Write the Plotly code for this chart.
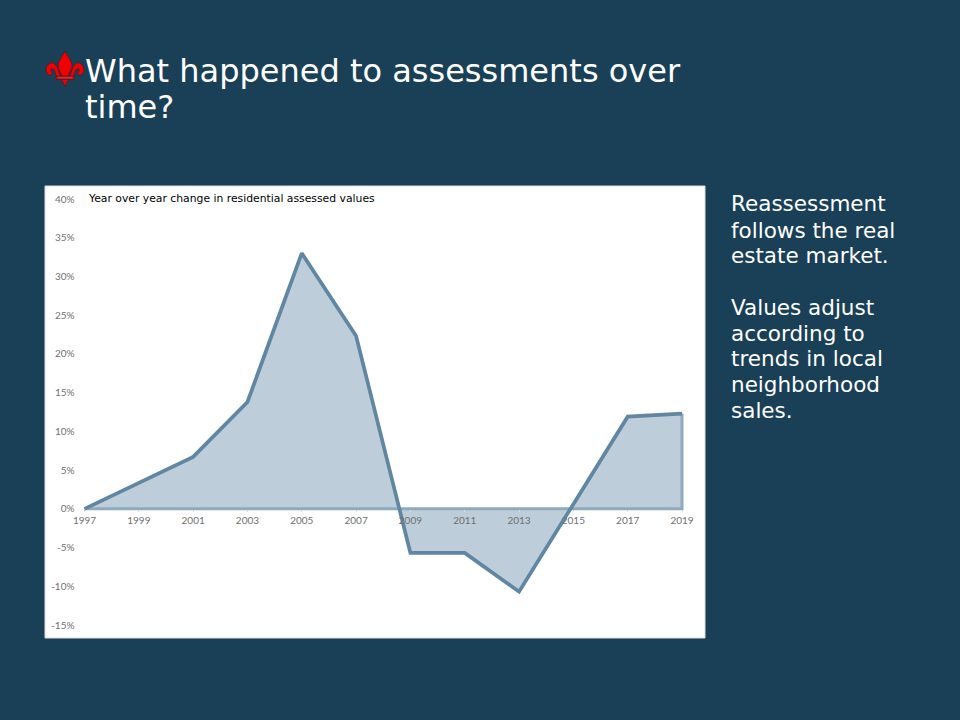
import plotly.graph_objects as go

years = [1997, 1999, 2001, 2003, 2005, 2007, 2009, 2011, 2013, 2015, 2017, 2019]
changes = [0, 3.3, 6.7, 13.8, 33.0, 22.3, -5.7, -5.7, -10.7, 0.6, 11.9, 12.3]
x_ticks = years
y_ticks = [40, 35, 30, 25, 20, 15, 10, 5, 0, -5, -10, -15]
y_labels = [f"{v}%" for v in y_ticks]
title_lines = ["What happened to assessments over", "time?"]
side_lines = ["Reassessment", "follows the real", "estate market.", "", "Values adjust", "according to",
              "trends in local", "neighborhood", "sales."]
chart_label = "Year over year change in residential assessed values"

BG = "#1a4057"
LINE = "#5f87a3"
FILL = "#bdcdd9"
BASE = "#8eaabf"
TICK = "#6f6f6f"

# panel geometry in page pixels
PL, PR, PT, PB = 45, 705, 186, 638
X0, X1 = 84.5, 682.0
Y40, Ym15 = 199.0, 625.0
xs = (X1 - X0) / 22
ys = (Ym15 - Y40) / 55
xr = [1997 - (X0 - PL) / xs, 2019 + (PR - X1) / xs]
yr = [-15 - (PB - Ym15) / ys, 40 + (Y40 - PT) / ys]


def fx(p):
    return (p - PL) / (PR - PL)


def fy(p):
    return (PB - p) / (PB - PT)


def sx(p):
    return f"{fx(p):.5f}"


def sy(p):
    return f"{fy(p):.5f}"


def path(cmds):
    """Build an SVG path in paper fractions from page-pixel command tuples."""
    out = []
    for c in cmds:
        op, pts = c[0], c[1:]
        out.append(op + " " + " ".join(f"{sx(px)},{sy(py)}" for px, py in pts))
    return " ".join(out) + " Z"


def mirror(p):
    return 130 - p


center = [("M", (65, 51)),
          ("C", (67, 56), (72, 60), (72, 66)),
          ("C", (72, 70), (69, 72), (68, 77)),
          ("L", (62, 77)),
          ("C", (61, 72), (58, 70), (58, 66)),
          ("C", (58, 60), (63, 56), (65, 51))]


def petal(m):
    f = (lambda p: p) if not m else mirror
    return [("M", (f(68), 78)),
            ("C", (f(72), 74), (f(71), 68), (f(75), 64)),
            ("C", (f(78), 61), (f(84), 64), (f(84), 70)),
            ("C", (f(84), 75), (f(79), 77), (f(77), 73)),
            ("C", (f(80), 72), (f(80), 68), (f(77), 69)),
            ("C", (f(74), 70), (f(75), 78), (f(71), 79))]


stem = [("M", (61, 79)), ("L", (69, 79)), ("C", (67, 82), (66, 84), (65, 87)),
        ("C", (64, 84), (63, 82), (61, 79))]
band = [("M", (56, 76)), ("L", (74, 76)), ("L", (74, 79.5)), ("L", (56, 79.5)), ("L", (56, 76))]

RED = "#f00000"
DARK = "#4a1c28"
shapes = [dict(type="rect", xref="paper", yref="paper", x0=0, x1=1, y0=0, y1=1,
               line=dict(color="#dcdcdc", width=1), layer="below")]
for part in [petal(False), petal(True), center, stem, band]:
    shapes.append(dict(type="path", xref="paper", yref="paper", path=path(part),
                       fillcolor=RED, line=dict(color=DARK, width=0.8)))
shapes.append(dict(type="line", xref="paper", yref="paper", x0=fx(58), x1=fx(72), y0=fy(77.8), y1=fy(77.8),
                   line=dict(color="#8a5a60", width=1)))

fig = go.Figure()
fig.add_trace(go.Scatter(x=years, y=changes, mode="none", fill="tozeroy", fillcolor=FILL, hoverinfo="skip"))
fig.add_trace(go.Scatter(x=[years[0], years[-1], years[-1]], y=[0, 0, changes[-1]], mode="lines",
                         line=dict(color=BASE, width=3), hoverinfo="skip"))
fig.add_trace(go.Scatter(x=years, y=changes, mode="lines", line=dict(color=LINE, width=3.7, shape="linear")))

ann = []
ann.append(dict(text=chart_label, x=fx(88), y=fy(198), xanchor="left", yanchor="middle",
                font=dict(family="DejaVu Sans", size=10.8, color="#000000")))
for t, yy in zip(title_lines, [71, 107]):
    ann.append(dict(text=t, x=fx(85), y=fy(yy), xanchor="left", yanchor="middle",
                    font=dict(family="DejaVu Sans", size=32, color="#ffffff")))
for t, yy in zip(side_lines, [204, 230, 255, 281, 307, 333, 358, 384, 410]):
    if t:
        ann.append(dict(text=t, x=fx(731), y=fy(yy), xanchor="left", yanchor="middle",
                        font=dict(family="DejaVu Sans", size=21.5, color="#ffffff")))
for a in ann:
    a.update(xref="paper", yref="paper", showarrow=False, borderpad=0, borderwidth=0)

fig.update_layout(
    width=960, height=720, showlegend=False, paper_bgcolor=BG, plot_bgcolor="#ffffff",
    margin=dict(l=PL, r=960 - PR, t=PT, b=720 - PB, pad=0),
    annotations=ann, shapes=shapes,
    xaxis=dict(range=xr, tickmode="array", tickvals=x_ticks, ticktext=[str(v) for v in x_ticks],
               anchor="free", position=(0 - yr[0]) / (yr[1] - yr[0]), showgrid=False, zeroline=False,
               ticks="outside", ticklen=2, tickcolor="#d9d9d9", tickwidth=1,
               tickfont=dict(family="Lato", size=10, color=TICK), showline=False),
    yaxis=dict(range=yr, tickmode="array", tickvals=y_ticks, ticktext=y_labels,
               anchor="free", position=(1997 - xr[0]) / (xr[1] - xr[0]), showgrid=False, zeroline=False,
               ticks="outside", ticklen=8, tickcolor="rgba(255,255,255,0)", tickwidth=1,
               tickfont=dict(family="Lato", size=10, color=TICK), showline=False),
)
fig.write_html("out.html", config=dict(displayModeBar=False),
               post_script="document.body.style.margin='0';document.body.style.background='%s';" % BG)
